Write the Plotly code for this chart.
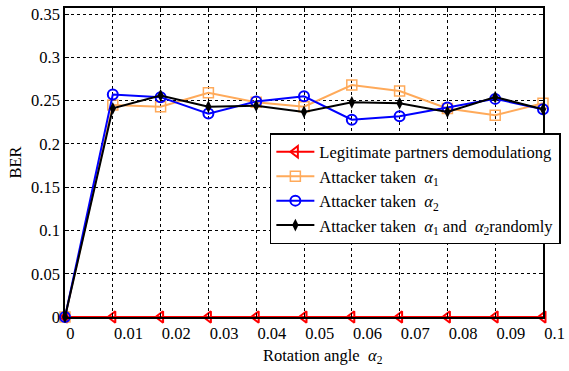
import plotly.graph_objects as go

angles = [0, 0.01, 0.02, 0.03, 0.04, 0.05, 0.06, 0.07, 0.08, 0.09, 0.1]
ber_legit = [0, 0, 0, 0, 0, 0, 0, 0, 0, 0, 0]
ber_alpha1 = [0, 0.245, 0.243, 0.259, 0.248, 0.243, 0.268, 0.261, 0.241, 0.233, 0.247]
ber_alpha2 = [0, 0.257, 0.254, 0.235, 0.249, 0.255, 0.228, 0.232, 0.242, 0.252, 0.240]
ber_random = [0, 0.241, 0.256, 0.243, 0.244, 0.237, 0.248, 0.247, 0.237, 0.254, 0.240]
x_ticks = [0, 0.01, 0.02, 0.03, 0.04, 0.05, 0.06, 0.07, 0.08, 0.09, 0.1]
x_ticklabels = ["0", "0.01", "0.02", "0.03", "0.04", "0.05", "0.06", "0.07", "0.08", "0.09", "0.1"]
y_ticks = [0, 0.05, 0.1, 0.15, 0.2, 0.25, 0.3, 0.35]
y_ticklabels = ["0", "0.05", "0.1", "0.15", "0.2", "0.25", "0.3", "0.35"]

FONT = "Liberation Serif"
FS = 16.5

fig = go.Figure()
fig.add_trace(go.Scatter(
    x=angles, y=ber_legit, mode="lines+markers",
    name="Legitimate partners demodulationg",
    line=dict(color="#FF0000", width=2),
    marker=dict(symbol="triangle-left-open", size=10, color="#FF0000", line=dict(width=2)),
    cliponaxis=False))
fig.add_trace(go.Scatter(
    x=angles, y=ber_alpha1, mode="lines+markers",
    name="Attacker taken  <i>α</i><sub>1</sub>",
    line=dict(color="#FFAA5A", width=2),
    marker=dict(symbol="square-open", size=10, color="#FFAA5A", line=dict(width=1.5)),
    cliponaxis=False))
fig.add_trace(go.Scatter(
    x=angles, y=ber_alpha2, mode="lines+markers",
    name="Attacker taken  <i>α</i><sub>2</sub>",
    line=dict(color="#0000FF", width=2),
    marker=dict(symbol="circle-open", size=10, color="#0000FF", line=dict(width=2)),
    cliponaxis=False))
fig.add_trace(go.Scatter(
    x=angles, y=ber_random, mode="lines+markers",
    name="Attacker taken  <i>α</i><sub>1</sub> and  <i>α</i><sub>2</sub>randomly",
    line=dict(color="#000000", width=2),
    marker=dict(symbol="diamond-tall", size=9, color="#000000"),
    cliponaxis=False))

axis_common = dict(
    showline=True, linecolor="black", linewidth=1.5, mirror="ticks",
    ticks="inside", ticklen=4, tickcolor="black",
    showgrid=True, gridcolor="black", gridwidth=1, griddash="dot",
    zeroline=False, automargin=False,
    tickfont=dict(family=FONT, size=FS, color="black"),
)

fig.update_xaxes(range=[0, 0.1], tickvals=x_ticks, ticktext=x_ticklabels,
                 ticklabelposition="outside right", **axis_common)
fig.update_yaxes(range=[0, 0.357], tickvals=y_ticks, ticktext=y_ticklabels,
                 **axis_common)

fig.add_annotation(text="BER", xref="paper", yref="paper",
                   x=-(65 - 15) / 483, y=(317 - 163) / 309, xanchor="center", yanchor="middle",
                   textangle=-90, showarrow=False,
                   font=dict(family=FONT, size=FS, color="black"))
fig.add_annotation(text="Rotation angle  <i>α</i><sub>2</sub>", xref="paper", yref="paper",
                   x=(326 - 65) / 483, y=-(344 - 317) / 309, xanchor="center", yanchor="top",
                   showarrow=False, font=dict(family=FONT, size=FS, color="black"))

fig.update_layout(
    width=569, height=371,
    margin=dict(l=65, r=21, t=8, b=54),
    plot_bgcolor="white", paper_bgcolor="white",
    font=dict(family=FONT, size=FS, color="black"),
    legend=dict(x=(272 - 65) / 483, y=(317 - 133) / 309, xanchor="left", yanchor="top",
                bgcolor="white", bordercolor="black", borderwidth=1.5,
                font=dict(family=FONT, size=FS, color="black"),
                tracegroupgap=0, itemwidth=38),
    showlegend=True,
)

fig.write_html("out.html", post_script="document.body.style.margin='0';",
               config={"displayModeBar": False})
